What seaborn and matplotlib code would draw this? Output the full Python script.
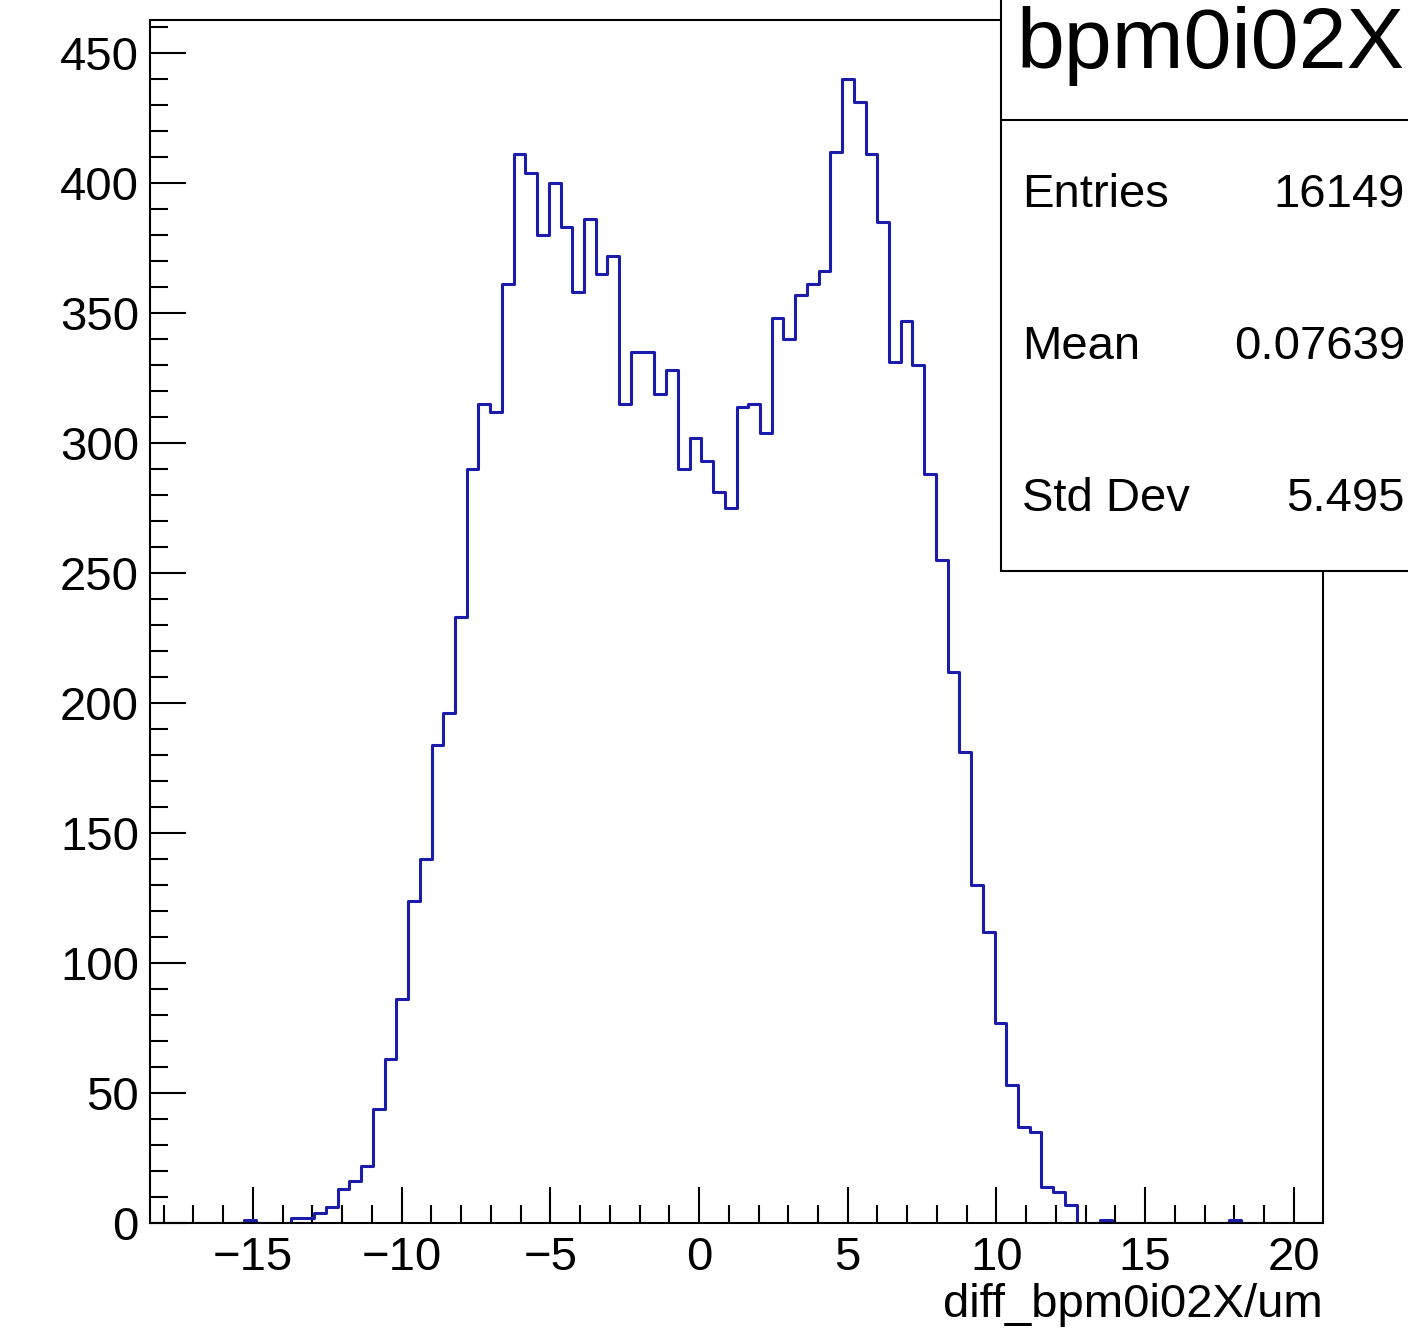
import numpy as np
import pandas as pd
import matplotlib
matplotlib.use("Agg")
import matplotlib.pyplot as plt
from matplotlib.patches import Rectangle
from matplotlib.lines import Line2D
from matplotlib.ticker import MultipleLocator
import seaborn as sns

# histogram: 100 bins, range
x_min, x_max = -18.46, 20.98
counts = [
    0, 0, 0, 0, 0, 0, 0, 0, 1, 0,
    0, 0, 2, 2, 4, 6, 13, 16, 22, 44,
    63, 86, 124, 140, 184, 196, 233, 290, 315, 312,
    361, 411, 404, 380, 400, 383, 358, 386, 365, 372,
    315, 335, 335, 319, 328, 290, 302, 293, 281, 275,
    314, 315, 304, 348, 340, 357, 361, 366, 412, 440,
    431, 411, 385, 331, 347, 330, 288, 255, 212, 181,
    130, 112, 77, 53, 37, 35, 14, 12, 7, 0,
    0, 1, 0, 0, 0, 0, 0, 0, 0, 0,
    0, 0, 1, 0, 0, 0, 0, 0, 0, 0,
]
hist_name = "bpm0i02X"
x_label = "diff_bpm0i02X/um"
stat_names = ["Entries", "Mean", "Std Dev"]
stat_values = ["16149", "0.07639", "5.495"]

n_bins = len(counts)
edges = np.linspace(x_min, x_max, n_bins + 1)
df = pd.DataFrame({"x": 0.5 * (edges[:-1] + edges[1:]), "n": counts})

sns.set_style("ticks")
plt.rcParams["font.family"] = ["Liberation Sans", "DejaVu Sans"]
plt.rcParams["text.color"] = "black"

W, H = 1408, 1333
fig = plt.figure(figsize=(W / 100, H / 100), dpi=100)
ax = fig.add_axes([150 / W, 1 - 1223 / H, (1323 - 150) / W, (1223 - 20) / H])

sns.histplot(data=df, x="x", weights="n", bins=n_bins, binrange=(x_min, x_max),
             element="step", fill=False, color="#1c1caa", linewidth=2.2,
             ax=ax, zorder=2)

ax.set_xlim(x_min, x_max)
ax.set_ylim(0, 462.7)
ax.set_xlabel("")
ax.set_ylabel("")

ax.xaxis.set_major_locator(MultipleLocator(5))
ax.xaxis.set_minor_locator(MultipleLocator(1))
ax.yaxis.set_major_locator(MultipleLocator(50))
ax.yaxis.set_minor_locator(MultipleLocator(10))
ax.tick_params(which="both", direction="in", top=False, right=False,
               color="black", width=1.5, labelsize=34, labelcolor="black")
ax.tick_params(which="major", length=26)
ax.tick_params(which="minor", length=13)
ax.tick_params(axis="x", pad=9)
ax.tick_params(axis="y", pad=8)
for sp in ax.spines.values():
    sp.set_visible(True)
    sp.set_color("black")
    sp.set_linewidth(1.5)
    sp.set_zorder(3)

fig.text(1323 / W, 1 - 1305 / H, x_label, ha="right", va="center",
         fontsize=34, color="black")

# stats box (runs off the top and right edge like the original)
fig.patches.append(Rectangle((1001 / W, 1 - 571 / H), 0.5, 0.6,
                             transform=fig.transFigure, facecolor="white",
                             edgecolor="black", linewidth=1.5, zorder=5))
fig.lines.append(Line2D([1001 / W, 1.0], [1 - 120 / H, 1 - 120 / H],
                        transform=fig.transFigure, color="black",
                        linewidth=1.5, zorder=6))
fig.text(1017 / W, 1 - 46 / H, hist_name, ha="left", va="center",
         fontsize=62, color="black", zorder=7)
for i, (name, val) in enumerate(zip(stat_names, stat_values)):
    y = 1 - (195 + 152 * i) / H
    fig.text(1022 / W, y, name, ha="left", va="center", fontsize=34,
             color="black", zorder=7)
    fig.text(1405 / W, y, val, ha="right", va="center", fontsize=34,
             color="black", zorder=7)

fig.savefig("out.png", dpi=100, facecolor="white")
